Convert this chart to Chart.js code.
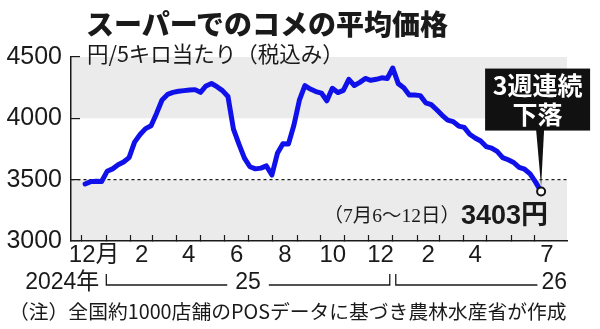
<!DOCTYPE html>
<html lang="ja">
<head>
<meta charset="utf-8">
<script src="https://cdn.jsdelivr.net/npm/chart.js@4.4.1/dist/chart.umd.min.js"></script>
<style>
  html, body { margin: 0; padding: 0; background: #fff; }
  #wrap { position: relative; width: 600px; height: 329px; overflow: hidden; }
  #chart { position: absolute; left: 0; top: 0; }
  .txt { position: absolute; white-space: nowrap; line-height: 1; color: #1a1a1a; font-family: "Noto Sans CJK JP", sans-serif; }
  #title { left: 86px; top: 9px; font-size: 28px; font-weight: 900; }
  #sub { left: 87px; top: 42px; font-size: 21.5px; }
  #note { left: 9px; top: 301px; font-size: 19.8px; }
</style>
</head>
<body>
<div id="wrap">
  <canvas id="chart" width="600" height="329"></canvas>
  <div class="txt" id="title">スーパーでのコメの平均価格</div>
  <div class="txt" id="sub">円/5キロ当たり（税込み）</div>
  <div class="txt" id="note">（注）全国約1000店舗のPOSデータに基づき農林水産省が作成</div>
</div>
<script>
// 週ごとの平均価格（円/5キロ）、2024年12月2日の週から2026年7月6〜12日の週まで
const firstWeekMid = '2024-12-05';
const prices = [
  3465, 3484, 3488, 3485, 3568, 3588, 3621, 3644, 3680, 3806,
  3868, 3916, 3939, 4040, 4150, 4195, 4212, 4221, 4226, 4231,
  4234, 4212, 4264, 4284, 4258, 4226, 4178, 3912, 3790, 3676,
  3605, 3588, 3594, 3612, 3538, 3715, 3793, 3790, 3943, 4148,
  4267, 4239, 4218, 4206, 4143, 4245, 4210, 4228, 4318, 4268,
  4293, 4325, 4310, 4318, 4330, 4325, 4410, 4283, 4250, 4190,
  4190, 4185, 4127, 4112, 4070, 4025, 3986, 3973, 3937, 3926,
  3870, 3840, 3815, 3770, 3757, 3730, 3680, 3662, 3640, 3600,
  3585, 3547, 3480, 3403
];

// 軸の目盛り
const yTicks = [3000, 3500, 4000, 4500];
const monthLabels = ['12月', '2', '4', '6', '8', '10', '12', '2', '4', '7'];
const labelMonths = ['2024-12', '2025-02', '2025-04', '2025-06', '2025-08', '2025-10', '2025-12', '2026-02', '2026-04', '2026-07'];
const yearLabels = ['2024年', '25', '26'];
const bands = [[4000, 4500], [3000, 3500]];
const refLine = 3500;
const calloutText = ['3週連続', '下落'];
const lastWeekText = '（7月6～12日）';

const DAY0 = Date.UTC(2024, 11, 1);
const dayOf = (y, m, d) => (Date.UTC(y, m - 1, d) - DAY0) / 864e5;
const mid0 = (Date.parse(firstWeekMid) - DAY0) / 864e5;

// 月初の位置（目盛り線）
const monthStarts = [];
for (let y = 2024, m = 12; y < 2026 || m <= 7; ) {
  monthStarts.push(dayOf(y, m, 1));
  m++; if (m > 12) { m = 1; y++; }
}
// 月の真ん中（ラベル）
const labelPos = labelMonths.map(s => {
  const [y, m] = s.split('-').map(Number);
  return (dayOf(y, m, 1) + dayOf(m === 12 ? y + 1 : y, m === 12 ? 1 : m + 1, 1)) / 2;
});
const tickValues = [...monthStarts, ...labelPos].sort((a, b) => a - b);

const BLUE = '#1010ea';
const INK = '#1a1a1a';
const numFont = '"Liberation Sans", "Noto Sans CJK JP", sans-serif';

const bandsPlugin = {
  id: 'bands',
  beforeDraw(chart) {
    const { ctx, chartArea: a, scales: { y } } = chart;
    ctx.save();
    ctx.fillStyle = '#ebebeb';
    bands.forEach(([lo, hi]) => {
      const t = y.getPixelForValue(hi), b = y.getPixelForValue(lo);
      ctx.fillRect(a.left, t, a.right - a.left, b - t);
    });
    ctx.restore();
  }
};

const calloutPlugin = {
  id: 'callout',
  afterDatasetsDraw(chart) {
    const { ctx } = chart;
    const pt = chart.getDatasetMeta(0).data[prices.length - 1];
    const px = pt.x, py = pt.y;
    ctx.save();
    // 黒い箱と矢印
    const bx = px - 56, by = py - 123, bw = 105, bh = 62;
    ctx.fillStyle = '#111';
    ctx.fillRect(bx, by, bw, bh);
    ctx.beginPath();
    ctx.moveTo(px - 5, by + bh - 1);
    ctx.lineTo(px + 3, by + bh - 1);
    ctx.lineTo(px, py - 5);
    ctx.closePath();
    ctx.fill();
    ctx.fillStyle = '#fff';
    ctx.font = 'bold 25px "Noto Sans CJK JP"';
    ctx.textAlign = 'center';
    ctx.textBaseline = 'middle';
    ctx.fillText(calloutText[0], bx + bw / 2, by + 17);
    ctx.fillText(calloutText[1], bx + bw / 2, by + 46);

    // 最新値
    ctx.fillStyle = INK;
    ctx.textAlign = 'right';
    const valText = prices[prices.length - 1] + '円';
    ctx.font = 'bold 27px ' + numFont;
    const vx = px + 7, vy = py + 25;
    ctx.fillText(valText, vx, vy);
    const w = ctx.measureText(valText).width;
    ctx.font = '19.5px "Liberation Serif", "Noto Sans CJK JP"';
    ctx.fillText(lastWeekText, vx - w - 1, vy);
    ctx.restore();
  }
};

const yearPlugin = {
  id: 'years',
  afterDraw(chart) {
    const { ctx, chartArea: a, scales: { x } } = chart;
    const yy = 283;
    const xJan25 = x.getPixelForValue(dayOf(2025, 1, 1));
    const xJan26 = x.getPixelForValue(dayOf(2026, 1, 1));
    ctx.save();
    ctx.fillStyle = INK;
    ctx.strokeStyle = INK;
    ctx.lineWidth = 1.3;
    ctx.font = '23px ' + numFont;
    ctx.textBaseline = 'middle';
    ctx.textAlign = 'right';
    ctx.fillText(yearLabels[0], xJan25 - 7, yy);

    const ly = yy + 2, top = yy - 9;
    // 25
    const a1 = xJan25, a2 = xJan26 - 3;
    const m = (a1 + a2) / 2;
    ctx.textAlign = 'center';
    ctx.fillText(yearLabels[1], m, yy);
    const hw = ctx.measureText(yearLabels[1]).width / 2 + 8;
    ctx.beginPath();
    ctx.moveTo(a1, top); ctx.lineTo(a1, ly); ctx.lineTo(m - hw, ly);
    ctx.moveTo(m + hw, ly); ctx.lineTo(a2, ly); ctx.lineTo(a2, top);
    // 26
    const b1 = xJan26 + 3;
    ctx.moveTo(b1, top); ctx.lineTo(b1, ly);
    ctx.textAlign = 'right';
    const w26 = ctx.measureText(yearLabels[2]).width;
    ctx.lineTo(a.right - w26 - 4, ly);
    ctx.stroke();
    ctx.fillText(yearLabels[2], a.right, yy);
    ctx.restore();
  }
};

new Chart(document.getElementById('chart'), {
  type: 'line',
  data: {
    datasets: [{
      data: prices.map((v, i) => ({ x: mid0 + 7 * i, y: v })),
      borderColor: BLUE,
      borderWidth: 5,
      borderJoinStyle: 'round',
      borderCapStyle: 'round',
      tension: 0,
      pointRadius: c => c.dataIndex === prices.length - 1 ? 4 : 0,
      pointBackgroundColor: '#fff',
      pointBorderColor: '#111',
      pointBorderWidth: 2
    }]
  },
  options: {
    responsive: false,
    animation: false,
    layout: { padding: { top: 57, right: 33, left: 0, bottom: 0 } },
    plugins: { legend: { display: false }, tooltip: { enabled: false } },
    scales: {
      x: {
        type: 'linear',
        min: -14,
        max: 618,
        afterBuildTicks: s => { s.ticks = tickValues.map(v => ({ value: v })); },
        afterFit: s => { s.height = 88; },
        ticks: {
          autoSkip: false,
          maxRotation: 0,
          padding: 6,
          color: INK,
          font: { family: numFont, size: 24 },
          callback: v => {
            const k = labelPos.indexOf(v);
            return k >= 0 ? monthLabels[k] : '';
          }
        },
        grid: {
          drawOnChartArea: false,
          tickLength: -6,
          tickWidth: 1.2,
          tickColor: c => c.tick && monthStarts.includes(c.tick.value) ? INK : 'rgba(0,0,0,0)'
        },
        border: { display: true, color: INK, width: 1.5 }
      },
      y: {
        min: 3000,
        max: 4500,
        afterBuildTicks: s => { s.ticks = yTicks.map(v => ({ value: v })); },
        afterFit: s => { s.width = 71; },
        ticks: {
          padding: 18,
          color: INK,
          font: { family: numFont, size: 25 },
          callback: v => String(v)
        },
        grid: {
          drawOnChartArea: true,
          color: c => c.tick && c.tick.value === refLine ? INK : 'rgba(0,0,0,0)',
          lineWidth: 1.2,
          tickLength: -9,
          tickWidth: 1.2,
          tickColor: INK
        },
        border: { display: true, color: INK, width: 1.5, dash: [3, 3] }
      }
    }
  },
  plugins: [bandsPlugin, calloutPlugin, yearPlugin]
});
</script>
</body>
</html>
